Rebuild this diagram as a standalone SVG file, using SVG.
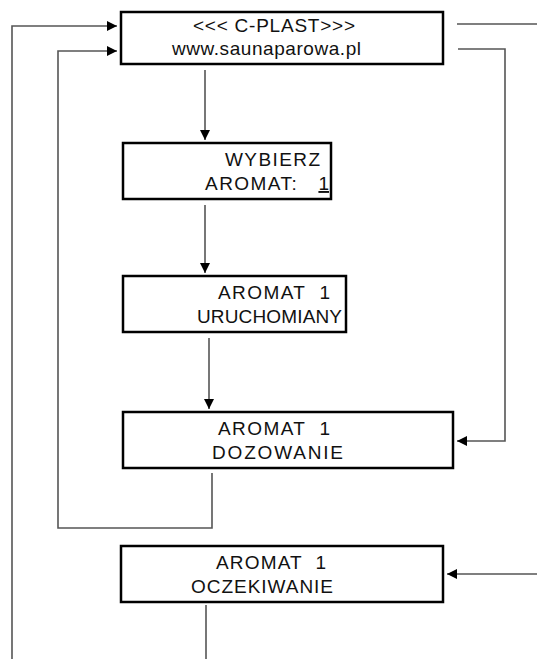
<svg xmlns="http://www.w3.org/2000/svg" width="537" height="659" viewBox="0 0 537 659">
<defs>
<style>
.box{fill:#fff;stroke:#000;stroke-width:2.5}
.t{font-family:"Liberation Sans",Arial,sans-serif;font-size:19px;fill:#111}
.c{fill:none;stroke:#555;stroke-width:1.6}
</style>
<marker id="ah" viewBox="0 0 10 10" refX="10" refY="5" markerWidth="10" markerHeight="10" markerUnits="userSpaceOnUse" orient="auto">
<path d="M0,0 L10,5 L0,10 Z" fill="#000"/>
</marker>
</defs>
<rect width="537" height="659" fill="#fff"/>
<g id="connectors">
<path class="c" d="M12,659 V26 H117" marker-end="url(#ah)"/>
<path class="c" d="M212,473 V528 H58 V51 H117" marker-end="url(#ah)"/>
<path class="c" d="M457,24 H537"/>
<path class="c" d="M458,49 H505 V441 H457" marker-end="url(#ah)"/>
<path class="c" d="M205,70 V140" marker-end="url(#ah)"/>
<path class="c" d="M205,205 V273" marker-end="url(#ah)"/>
<path class="c" d="M209,338 V409" marker-end="url(#ah)"/>
<path class="c" d="M537,574 H447" marker-end="url(#ah)"/>
<path class="c" d="M206,605 V659"/>
</g>
<g id="n1">
<rect class="box" x="121" y="12" width="322" height="52"/>
<text class="t" x="193" y="32" textLength="162" lengthAdjust="spacing">&lt;&lt;&lt; C-PLAST&gt;&gt;&gt;</text>
<text class="t" x="172" y="55" textLength="189" lengthAdjust="spacing">www.saunaparowa.pl</text>
</g>
<g id="n2">
<rect class="box" x="123" y="143" width="208" height="56"/>
<text class="t" x="225" y="166" textLength="95" lengthAdjust="spacing">WYBIERZ</text>
<text class="t" x="205" y="190" textLength="124" lengthAdjust="spacing" xml:space="preserve">AROMAT:   <tspan text-decoration="underline">1</tspan></text>
</g>
<g id="n3">
<rect class="box" x="123" y="276" width="223" height="56"/>
<text class="t" x="218" y="299" textLength="112" lengthAdjust="spacing" xml:space="preserve">AROMAT  1</text>
<text class="t" x="197" y="323" textLength="145" lengthAdjust="spacing">URUCHOMIANY</text>
</g>
<g id="n4">
<rect class="box" x="123" y="412" width="330" height="56"/>
<text class="t" x="218" y="435" textLength="112" lengthAdjust="spacing" xml:space="preserve">AROMAT  1</text>
<text class="t" x="212" y="459" textLength="131" lengthAdjust="spacing">DOZOWANIE</text>
</g>
<g id="n5">
<rect class="box" x="121" y="546" width="322" height="56"/>
<text class="t" x="216" y="569" textLength="110" lengthAdjust="spacing" xml:space="preserve">AROMAT  1</text>
<text class="t" x="191" y="593" textLength="142" lengthAdjust="spacing">OCZEKIWANIE</text>
</g>
</svg>
